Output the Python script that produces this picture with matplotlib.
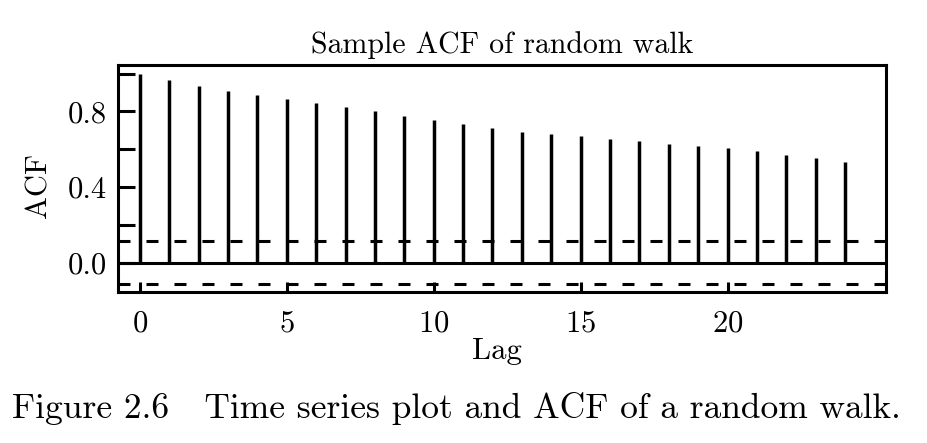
import matplotlib
matplotlib.use("Agg")
import matplotlib.pyplot as plt

### sample ACF of a random walk

lags = list(range(25))
acf = [1.0, 0.968, 0.937, 0.91, 0.886, 0.865, 0.847, 0.823, 0.80, 0.778,
       0.757, 0.733, 0.71, 0.692, 0.68, 0.668, 0.655, 0.642, 0.628, 0.616,
       0.605, 0.59, 0.57, 0.552, 0.535]
conf = 0.113  # approx 2/sqrt(n) band
xticks = [0, 5, 10, 15, 20]
yticks = [0.0, 0.2, 0.4, 0.6, 0.8, 1.0]
ylabels = ["0.0", "", "0.4", "", "0.8", ""]

plt.rcParams["font.family"] = ["cmr10", "DejaVu Serif"]
plt.rcParams["axes.formatter.use_mathtext"] = True

fig = plt.figure(figsize=(9.28, 4.43), dpi=100)
ax = fig.add_axes([0.127, 0.341, 0.828, 0.512])

ax.vlines(lags, 0, acf, colors="black", linewidth=2.5)
ax.axhline(0, color="black", linewidth=2.2)
lw = 2.2
dash = (12 * 0.72 / lw, 16 * 0.72 / lw)
for c in (conf, -conf):
    ax.axhline(c, color="black", linewidth=lw, dashes=dash)

ax.set_xlim(-0.75, 25.4)
ax.set_ylim(-0.155, 1.045)

ax.set_xticks(xticks)
ax.set_yticks(yticks)
ax.set_yticklabels(ylabels)
ax.tick_params(axis="both", direction="in", width=2.2, labelsize=22, color="black")
ax.tick_params(axis="y", length=12, pad=8)
ax.tick_params(axis="x", length=7, pad=13)
for s in ax.spines.values():
    s.set_linewidth(2.2)

ax.set_title("Sample ACF of random walk", fontsize=21.5, pad=9)
ax.set_ylabel("ACF", fontsize=22)
ax.set_xlabel("Lag", fontsize=22)
ax.yaxis.set_label_coords(-0.085, 0.47)
ax.xaxis.set_label_coords(0.493, -0.203)

fig.text(12 / 928, 0.056, "Figure 2.6   Time series plot and ACF of a random walk.",
         fontsize=25.5, ha="left", va="baseline")

fig.savefig("out.png", dpi=100)
